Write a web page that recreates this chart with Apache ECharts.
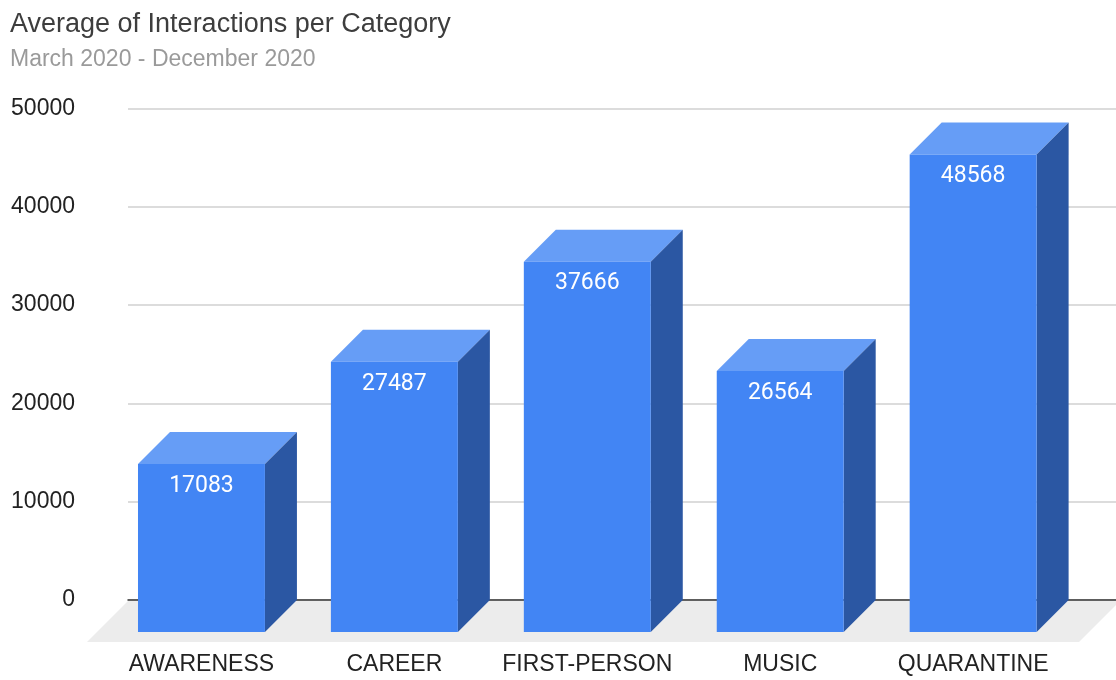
<!DOCTYPE html>
<html>
<head>
<meta charset="utf-8">
<script src="https://cdn.jsdelivr.net/npm/echarts@6/dist/echarts.min.js"></script>
<style>
  html, body { margin: 0; padding: 0; background: #fff; }
  #chart { width: 1116px; height: 680px; }
</style>
</head>
<body>
<div id="chart"></div>
<script>
// ---- data ----
const categories = ['AWARENESS', 'CAREER', 'FIRST-PERSON', 'MUSIC', 'QUARANTINE'];
const interactions = [17083, 27487, 37666, 26564, 48568];
const yTicks = [0, 10000, 20000, 30000, 40000, 50000];
const titleText = 'Average of Interactions per Category';
const subtitleText = 'March 2020 - December 2020';

// ---- style / layout ----
const FRONT = '#4285F4';
const TOP = '#669DF6';
const SIDE = '#2B57A3';
const FLOOR = '#ECECEC';
const DEPTH = 32;        // bar depth (px)
const FLOOR_DEPTH = 42;  // floor depth (px)
const BAR_RATIO = 0.658;

const chart = echarts.init(document.getElementById('chart'), null, { renderer: 'canvas' });

function renderFloor(params, api) {
  const cs = params.coordSys;
  const yb = cs.y + cs.height;
  return {
    type: 'polygon',
    shape: { points: [[cs.x + 1, yb], [cs.x + cs.width + 5, yb], [cs.x + cs.width + 5 - FLOOR_DEPTH, yb + FLOOR_DEPTH], [cs.x + 1 - FLOOR_DEPTH, yb + FLOOR_DEPTH]] },
    style: { fill: FLOOR }
  };
}

function renderBar(params, api) {
  const i = api.value(0), v = api.value(1);
  const top = api.coord([i, v]);
  const base = api.coord([i, 0]);
  const bw = api.size([1, 0])[0] * BAR_RATIO;
  const x0 = top[0] - bw / 2, x1 = top[0] + bw / 2;
  const yT = top[1], yB = base[1];
  const d = DEPTH;
  return {
    type: 'group',
    children: [
      { type: 'polygon', shape: { points: [[x0, yT], [x1, yT], [x1 + d, yT - d], [x0 + d, yT - d]] }, style: { fill: TOP } },
      { type: 'polygon', shape: { points: [[x1, yT], [x1 + d, yT - d], [x1 + d, yB - d], [x1, yB]] }, style: { fill: SIDE } },
      { type: 'rect', shape: { x: x0, y: yT, width: bw, height: yB - yT }, style: { fill: FRONT } },
      { type: 'text', x: top[0], y: yT + 22,
        style: { text: String(v), fill: '#ffffff', fontSize: 23, fontFamily: 'Roboto', align: 'center', verticalAlign: 'middle' } }
    ]
  };
}

const option = {
  animation: false,
  backgroundColor: '#ffffff',
  title: {
    text: titleText,
    subtext: subtitleText,
    left: 5,
    top: 6,
    itemGap: 10,
    textStyle: { fontFamily: 'Liberation Sans', fontSize: 27, fontWeight: 'normal', color: '#3d3d3d' },
    subtextStyle: { fontFamily: 'Liberation Sans', fontSize: 23, color: '#9a9a9a' }
  },
  grid: [
    { left: 128, right: 0, top: 108.5, bottom: 80 },      // back plane
    { left: 105, right: 46.4, top: 140.5, bottom: 48 }    // front plane
  ],
  xAxis: [
    { type: 'category', gridIndex: 0, data: categories, z: 3,
      axisLine: { show: true, lineStyle: { color: '#333333', width: 1.5 } },
      axisTick: { show: false }, axisLabel: { show: false }, splitLine: { show: false } },
    { type: 'category', gridIndex: 1, data: categories,
      axisLine: { show: false }, axisTick: { show: false }, splitLine: { show: false },
      axisLabel: { margin: 21, fontFamily: 'Liberation Sans', fontSize: 23, color: '#222222', interval: 0 } }
  ],
  yAxis: [
    { type: 'value', gridIndex: 0, min: yTicks[0], max: yTicks[yTicks.length - 1], interval: yTicks[1] - yTicks[0],
      axisLine: { show: false }, axisTick: { show: false },
      axisLabel: { margin: 53, fontFamily: 'Liberation Sans', fontSize: 23, color: '#222222', formatter: (v) => String(v) },
      splitLine: { show: true, lineStyle: { color: '#d0d0d0', width: 1.5 } } },
    { type: 'value', gridIndex: 1, min: yTicks[0], max: yTicks[yTicks.length - 1], interval: yTicks[1] - yTicks[0],
      show: false, splitLine: { show: false } }
  ],
  series: [
    { type: 'custom', name: 'floor', xAxisIndex: 0, yAxisIndex: 0, z: 1, silent: true,
      renderItem: renderFloor, data: [[0, 0]] },
    { type: 'custom', name: 'Interactions', xAxisIndex: 1, yAxisIndex: 1, z: 5,
      renderItem: renderBar,
      encode: { x: 0, y: 1 },
      data: categories.map((c, i) => [i, interactions[i]]) }
  ]
};
chart.setOption(option);
</script>
</body>
</html>
